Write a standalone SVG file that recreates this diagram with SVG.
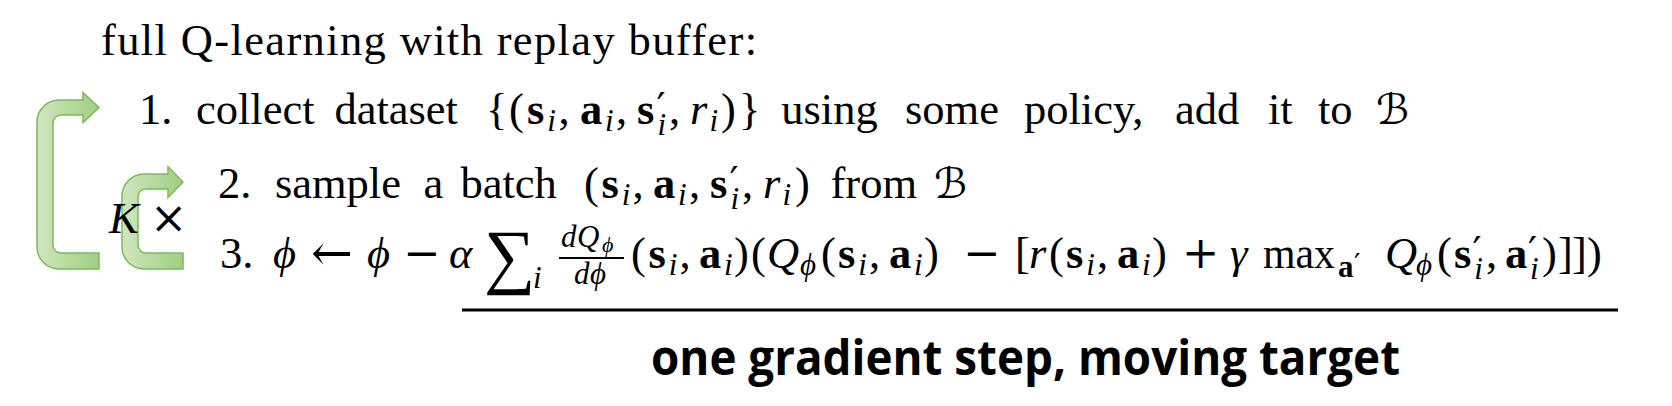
<svg xmlns="http://www.w3.org/2000/svg" width="1672" height="406" viewBox="0 0 1672 406">
<defs>
<linearGradient id="grn" x1="0" y1="0" x2="1" y2="0">
<stop offset="0" stop-color="#cfe6bf"/>
<stop offset="1" stop-color="#9fce82"/>
</linearGradient>
<style>
.rm{font-family:'Liberation Serif','DejaVu Serif',serif;font-size:44.5px;fill:#000}
.it{font-style:italic}
.bf{font-weight:bold}
.sc{font-size:31px}
.ss{font-size:22px}
.sym{font-family:'DejaVu Serif',serif;font-size:44.5px}
.pr{font-family:'DejaVu Serif',serif;font-size:40px}
.cal{font-family:'DejaVu Sans',sans-serif;font-size:42px}
.arrow{fill:url(#grn);stroke:#7db85d;stroke-width:1.5}
.cap{font-family:'Open Sans','Noto Sans',sans-serif;font-weight:700;font-size:48px;fill:#000}
</style>
</defs>
<rect width="1672" height="406" fill="#fff"/>

<g id="connectors">
<path class="arrow" d="M 99,107.5 L 83,92.5 L 83,100 L 59,100 A 22,22 0 0 0 37,122 L 37,247 A 22,22 0 0 0 59,269 L 99,269 L 99,253 L 61,253 A 8,8 0 0 1 53,245 L 53,123 A 8,8 0 0 1 61,115 L 83,115 L 83,122.5 Z"/>
<path class="arrow" d="M 183,182 L 168,166.5 L 168,174 L 144,174 A 22,22 0 0 0 122,196 L 122,247 A 22,22 0 0 0 144,269 L 183,269 L 183,253 L 146,253 A 8,8 0 0 1 138,245 L 138,197 A 8,8 0 0 1 146,189 L 168,189 L 168,197.5 Z"/>
</g>

<g id="title">
<text class="rm" x="101" y="55" textLength="656" lengthAdjust="spacing">full Q-learning with replay buffer:</text>
</g>

<g id="step1">
<text class="rm">
<tspan x="139" y="124">1.</tspan>
<tspan x="196" y="124">collect</tspan>
<tspan x="334.4" y="124">dataset</tspan>
<tspan x="486" y="124">{</tspan>
<tspan x="509" y="124">(</tspan>
<tspan class="bf" x="527" y="124">s</tspan><tspan class="it sc" x="547.3" y="130.7">i</tspan>
<tspan x="558.5" y="124">,</tspan>
<tspan class="bf" x="580" y="124">a</tspan><tspan class="it sc" x="604.9" y="130.7">i</tspan>
<tspan x="616" y="124">,</tspan>
<tspan class="bf" x="637" y="124">s</tspan><tspan class="pr" x="656.5" y="121">′</tspan><tspan class="it sc" x="657.5" y="135">i</tspan>
<tspan x="669" y="124">,</tspan>
<tspan class="it" x="690" y="124">r</tspan><tspan class="it sc" x="709.5" y="130.7">i</tspan>
<tspan x="721" y="124">)</tspan>
<tspan x="739" y="124">}</tspan>
<tspan x="781.3" y="124">using</tspan>
<tspan x="905" y="124">some</tspan>
<tspan x="1024" y="124">policy,</tspan>
<tspan x="1175" y="124">add</tspan>
<tspan x="1268" y="124">it</tspan>
<tspan x="1318" y="124">to</tspan>
<tspan class="cal" x="1376" y="124">ℬ</tspan>
</text>
</g>

<g id="step2">
<text class="rm">
<tspan x="218" y="198">2.</tspan>
<tspan x="274.9" y="198">sample</tspan>
<tspan x="423.4" y="198">a</tspan>
<tspan x="460.5" y="198">batch</tspan>
<tspan x="584.1" y="198">(</tspan>
<tspan class="bf" x="601.4" y="198">s</tspan><tspan class="it sc" x="621.7" y="204.7">i</tspan>
<tspan x="632.5" y="198">,</tspan>
<tspan class="bf" x="653" y="198">a</tspan><tspan class="it sc" x="677.9" y="204.7">i</tspan>
<tspan x="689" y="198">,</tspan>
<tspan class="bf" x="710" y="198">s</tspan><tspan class="pr" x="729.5" y="195">′</tspan><tspan class="it sc" x="730.5" y="209">i</tspan>
<tspan x="742" y="198">,</tspan>
<tspan class="it" x="763" y="198">r</tspan><tspan class="it sc" x="782.5" y="204.7">i</tspan>
<tspan x="795" y="198">)</tspan>
<tspan x="830.5" y="198">from</tspan>
<tspan class="cal" x="934" y="198">ℬ</tspan>
</text>
</g>

<g id="loop-count">
<text class="rm"><tspan class="it" x="109" y="233">K</tspan><tspan class="sym" x="150" y="233">×</tspan></text>
</g>

<g id="step3">
<text class="rm">
<tspan x="220" y="268">3.</tspan>
<tspan class="it" x="273" y="268">ϕ</tspan>
<tspan class="sym" style="font-size:50px" x="311" y="270">←</tspan>
<tspan class="it" x="367" y="268">ϕ</tspan>
<tspan class="sym" x="403" y="268">−</tspan>
<tspan class="it" x="449" y="268">α</tspan>
<tspan x="484" y="280" style="font-size:72px">∑</tspan>
<tspan class="it sc" x="533" y="288">i</tspan>
<tspan class="it sc" x="561" y="247">d</tspan><tspan class="it sc" x="577" y="247">Q</tspan><tspan class="it ss" x="602" y="252">ϕ</tspan>
<tspan class="it sc" x="574" y="284">d</tspan><tspan class="it sc" x="590" y="284">ϕ</tspan>
<tspan x="631" y="268">(</tspan>
<tspan class="bf" x="648.5" y="268">s</tspan><tspan class="it sc" x="668.8" y="274.7">i</tspan>
<tspan x="679.5" y="268">,</tspan>
<tspan class="bf" x="699" y="268">a</tspan><tspan class="it sc" x="723.9" y="274.7">i</tspan>
<tspan x="734" y="268">)</tspan>
<tspan x="751" y="268">(</tspan>
<tspan class="it" x="767" y="268">Q</tspan><tspan class="it sc" x="800" y="275">ϕ</tspan>
<tspan x="821" y="268">(</tspan>
<tspan class="bf" x="838" y="268">s</tspan><tspan class="it sc" x="858.3" y="274.7">i</tspan>
<tspan x="869" y="268">,</tspan>
<tspan class="bf" x="889" y="268">a</tspan><tspan class="it sc" x="913.9" y="274.7">i</tspan>
<tspan x="924" y="268">)</tspan>
<tspan class="sym" x="963" y="268">−</tspan>
<tspan x="1015" y="268">[</tspan>
<tspan class="it" x="1029" y="268">r</tspan>
<tspan x="1049" y="268">(</tspan>
<tspan class="bf" x="1066" y="268">s</tspan><tspan class="it sc" x="1086.3" y="274.7">i</tspan>
<tspan x="1097" y="268">,</tspan>
<tspan class="bf" x="1117" y="268">a</tspan><tspan class="it sc" x="1141.9" y="274.7">i</tspan>
<tspan x="1152" y="268">)</tspan>
<tspan class="sym" x="1182" y="268">+</tspan>
<tspan class="it" x="1230" y="268">γ</tspan>
<tspan x="1263" y="268" textLength="72" lengthAdjust="spacingAndGlyphs">max</tspan>
<tspan class="bf sc" x="1338" y="277">a</tspan><tspan class="pr" style="font-size:28px" x="1354" y="274">′</tspan>
<tspan class="it" x="1385" y="268">Q</tspan><tspan class="it sc" x="1416" y="275">ϕ</tspan>
<tspan x="1437" y="268">(</tspan>
<tspan class="bf" x="1454" y="268">s</tspan><tspan class="pr" x="1472.5" y="265">′</tspan><tspan class="it sc" x="1474.3" y="279">i</tspan>
<tspan x="1486" y="268">,</tspan>
<tspan class="bf" x="1505" y="268">a</tspan><tspan class="pr" x="1528" y="265">′</tspan><tspan class="it sc" x="1530" y="279">i</tspan>
<tspan x="1542" y="268">)</tspan>
<tspan x="1558" y="268">]</tspan>
<tspan x="1572" y="268">]</tspan>
<tspan x="1587" y="268">)</tspan>
</text>
<line x1="559" y1="258" x2="624" y2="258" stroke="#000" stroke-width="1.8"/>
</g>

<g id="caption">
<line x1="462" y1="310" x2="1618" y2="310" stroke="#000" stroke-width="3.2"/>
<text class="cap" x="651" y="375" textLength="749" lengthAdjust="spacingAndGlyphs">one gradient step, moving target</text>
</g>
</svg>
